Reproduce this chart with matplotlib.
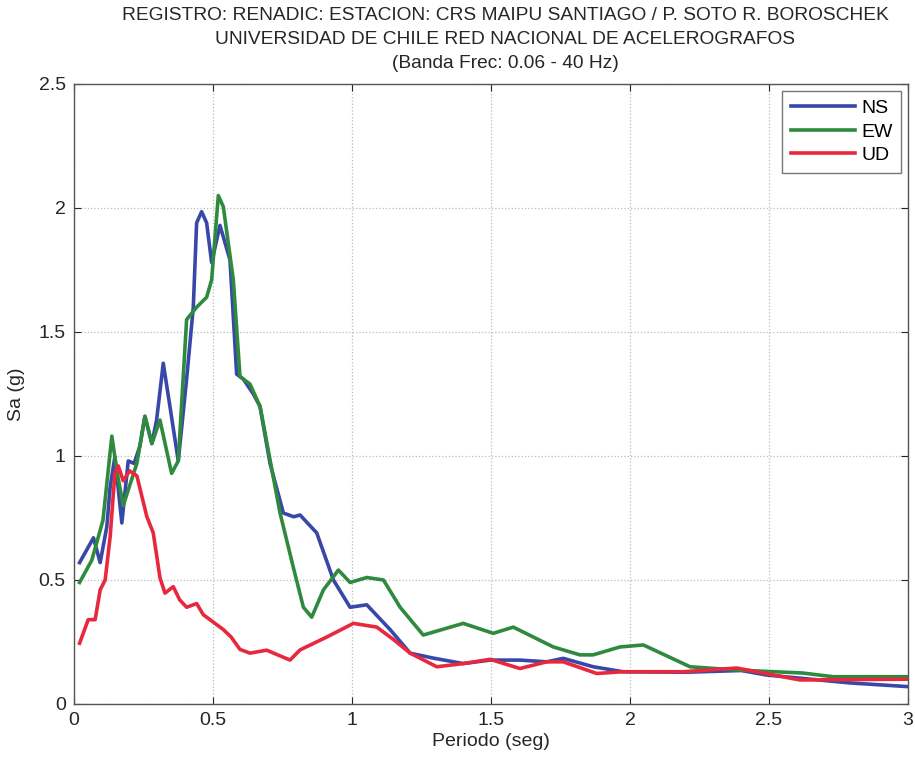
import matplotlib
matplotlib.use('Agg')
import matplotlib.pyplot as plt

# periods (s) and spectral acceleration (g)
ns_t = [0.02, 0.07, 0.094, 0.118, 0.13, 0.147, 0.172, 0.195, 0.216, 0.237, 0.255,
        0.28, 0.297, 0.321, 0.345, 0.375, 0.405, 0.429, 0.441, 0.459, 0.477, 0.495,
        0.525, 0.561, 0.585, 0.609, 0.645, 0.669, 0.705, 0.753, 0.79, 0.813, 0.873,
        0.933, 0.993, 1.053, 1.137, 1.209, 1.292, 1.40, 1.497, 1.604, 1.70, 1.76,
        1.868, 1.975, 2.2, 2.4, 2.49, 2.79, 3.0]
ns_sa = [0.57, 0.67, 0.57, 0.715, 0.875, 0.997, 0.73, 0.98, 0.97, 1.04, 1.16,
         1.05, 1.145, 1.374, 1.2, 0.98, 1.31, 1.60, 1.94, 1.985, 1.94, 1.78,
         1.93, 1.79, 1.33, 1.31, 1.25, 1.20, 0.97, 0.77, 0.755, 0.762, 0.69,
         0.50, 0.39, 0.40, 0.30, 0.205, 0.185, 0.163, 0.177, 0.177, 0.17, 0.184,
         0.15, 0.13, 0.128, 0.135, 0.117, 0.085, 0.07]

ew_t = [0.02, 0.064, 0.104, 0.136, 0.154, 0.177, 0.20, 0.226, 0.255, 0.28, 0.309,
        0.351, 0.375, 0.405, 0.441, 0.477, 0.495, 0.519, 0.537, 0.573, 0.597,
        0.633, 0.669, 0.741, 0.789, 0.825, 0.855, 0.897, 0.951, 0.993, 1.053,
        1.113, 1.173, 1.256, 1.40, 1.508, 1.58, 1.724, 1.82, 1.867, 1.964, 2.048,
        2.216, 2.384, 2.62, 2.73, 3.0]
ew_sa = [0.49, 0.58, 0.74, 1.08, 0.94, 0.80, 0.88, 0.97, 1.16, 1.05, 1.145,
         0.93, 0.98, 1.55, 1.60, 1.64, 1.71, 2.05, 2.005, 1.71, 1.32,
         1.29, 1.20, 0.77, 0.55, 0.39, 0.35, 0.46, 0.54, 0.49, 0.51,
         0.50, 0.39, 0.278, 0.325, 0.285, 0.31, 0.23, 0.198, 0.198, 0.23, 0.238,
         0.15, 0.137, 0.125, 0.11, 0.11]

ud_t = [0.02, 0.051, 0.076, 0.094, 0.112, 0.13, 0.147, 0.159, 0.177, 0.20, 0.226,
        0.262, 0.285, 0.309, 0.327, 0.357, 0.38, 0.405, 0.441, 0.465, 0.489, 0.537,
        0.565, 0.597, 0.633, 0.693, 0.777, 0.813, 0.909, 1.005, 1.089, 1.149,
        1.209, 1.305, 1.40, 1.497, 1.604, 1.70, 1.76, 1.88, 1.975, 2.19, 2.384,
        2.61, 3.0]
ud_sa = [0.245, 0.34, 0.34, 0.46, 0.50, 0.675, 0.93, 0.96, 0.90, 0.94, 0.92,
         0.755, 0.69, 0.51, 0.447, 0.473, 0.42, 0.39, 0.405, 0.36, 0.34, 0.30,
         0.27, 0.22, 0.205, 0.217, 0.177, 0.218, 0.27, 0.325, 0.31, 0.26,
         0.205, 0.15, 0.163, 0.18, 0.143, 0.17, 0.17, 0.123, 0.13, 0.13, 0.145,
         0.097, 0.10]

title_lines = ['REGISTRO: RENADIC: ESTACION: CRS MAIPU SANTIAGO / P. SOTO R. BOROSCHEK',
               'UNIVERSIDAD DE CHILE RED NACIONAL DE ACELEROGRAFOS',
               '(Banda Frec: 0.06 - 40 Hz)']

plt.rcParams['font.family'] = ['Liberation Sans', 'DejaVu Sans']
txt = '#262626'

fig = plt.figure(figsize=(9.15, 7.6), dpi=100)
ax = fig.add_axes([0.0809, 0.0737, 0.9115, 0.8158])

ax.plot(ns_t, ns_sa, color='#3848a8', lw=2.6, label='NS')
ax.plot(ew_t, ew_sa, color='#2f8a3e', lw=2.6, label='EW')
ax.plot(ud_t, ud_sa, color='#e8283c', lw=2.6, label='UD')

ax.set_xlim(0, 3)
ax.set_ylim(0, 2.5)
ax.set_xticks([0, 0.5, 1, 1.5, 2, 2.5, 3])
ax.set_xticklabels(['0', '0.5', '1', '1.5', '2', '2.5', '3'])
ax.set_yticks([0, 0.5, 1, 1.5, 2, 2.5])
ax.set_yticklabels(['0', '0.5', '1', '1.5', '2', '2.5'])
ax.tick_params(direction='in', top=True, right=True, length=5, labelsize=14,
               colors=txt, pad=6)
ax.grid(True, linestyle=':', color='#bbbbbb', lw=0.9)
for s in ax.spines.values():
    s.set_color('#555555')
    s.set_linewidth(1.0)

ax.set_xlabel('Periodo (seg)', fontsize=14, color=txt, labelpad=3)
ax.set_ylabel('Sa (g)', fontsize=14, color=txt, labelpad=10)

for i, line in enumerate(title_lines):
    fig.text(0.552, 1 - (16 + 23.5 * i) / 760, line, ha='center', va='center',
             fontsize=13.8, color=txt)

leg = ax.legend(loc='upper right', fontsize=14, frameon=True, fancybox=False,
                handlelength=3.3, borderaxespad=0.35, labelspacing=0.3,
                handletextpad=0.3, borderpad=0.45)
leg.get_frame().set_edgecolor('#555555')
leg.get_frame().set_linewidth(1.0)

fig.savefig('out.png', dpi=100)
